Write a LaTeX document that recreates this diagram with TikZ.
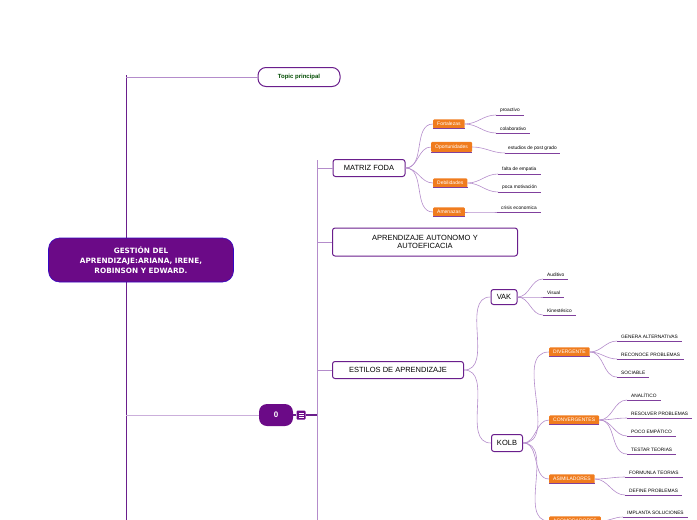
\documentclass[tikz,border=0pt]{standalone}
\usepackage{fontspec}
\setmainfont{Liberation Sans}
\newfontfamily\dejavu{DejaVu Sans}
\begin{document}
\begin{tikzpicture}[x=1pt,y=-1pt,
  every node/.style={inner sep=0pt},
  main/.style={draw=pur,line width=1pt,rounded corners=2.5pt,fill=white,font=\fontsize{7.5}{8.5}\selectfont,align=center},
  org/.style={fill=orn,rounded corners=1pt,text=white,font=\fontsize{5}{6}\selectfont,inner xsep=4pt,inner ysep=2.8pt,anchor=west},
  leaf/.style={anchor=south west,font=\fontsize{4.8}{5.5}\selectfont,inner xsep=4pt,inner ysep=2.5pt},
  ul/.style={draw=pur!85,line width=0.9pt},
  con/.style={draw=lpur,line width=0.6pt},
  thick/.style={draw=pur,line width=1.2pt}]
\definecolor{pur}{HTML}{6A1E8C}
\definecolor{lpur}{HTML}{B48CCB}
\definecolor{orn}{HTML}{F07C1E}
\definecolor{rootc}{HTML}{6B0A87}
\useasboundingbox (0,0) rectangle (697,520);
\clip (0,0) rectangle (697,520);
% trunk
\coordinate (t0) at (126,75);
\coordinate (t1) at (126,530);
\draw[thick,line width=1pt] (t0) -- (t1);
\coordinate (v0) at (317,160);
\coordinate (v1) at (317,530);
\draw[con,line width=0.8pt] (v0) -- (v1);
% root
\node[fill=rootc,draw=blue!50!rootc,line width=0.6pt,rounded corners=11pt,minimum width=185pt,minimum height=44pt,text=white,align=center,font=\dejavu\bfseries\fontsize{7.3}{10}\selectfont] (root) at (141,260) {GESTIÓN DEL\\APRENDIZAJE:ARIANA, IRENE,\\ROBINSON Y EDWARD.};
\node[main,rounded corners=8pt,minimum width=82pt,minimum height=19pt,font=\bfseries\fontsize{6}{7}\selectfont,text=black!70!green] (topic) at (299,77) {Topic principal};
\node[fill=rootc,rounded corners=8pt,minimum width=34pt,minimum height=22pt,text=white,font=\bfseries\fontsize{8}{9}\selectfont] (zero) at (276,415) {0};
\node[fill=rootc,rounded corners=1pt,minimum width=9pt,minimum height=9pt] (ic) at (301,415) {};
\draw[white,line width=0.5pt] ([xshift=-2.5pt,yshift=2pt]ic.center) -- ++(5,0) ([xshift=-2.5pt]ic.center) -- ++(5,0) ([xshift=-2.5pt,yshift=-2pt]ic.center) -- ++(5,0);
\coordinate (tz) at (126,415);
\coordinate (ttop) at (126,77);
\draw[con,line width=0.8pt] (ttop) -- (topic.west);
\draw[draw=lpur!70,line width=1pt] (tz) -- (zero.west);
\draw[thick] (zero.east) -- (ic.west);
\coordinate (vz) at (317,415);
\draw[thick] (ic.east) -- (vz);
% level 2
\node[main,minimum width=72pt,minimum height=17pt] (foda) at (369,168) {MATRIZ FODA};
\node[main,minimum width=185pt,minimum height=28pt,text width=180pt] (auto) at (425,242) {APRENDIZAJE AUTONOMO Y\\AUTOEFICACIA};
\node[main,minimum width=131pt,minimum height=17pt] (est) at (398,370) {ESTILOS DE APRENDIZAJE};
\foreach \n in {foda,auto,est} \draw[con] (317,0 |- \n.west) -- (\n.west);
% FODA
\node[org] (fo) at (433,124) {Fortalezas};
\node[org] (op) at (431,147) {Oportunidades};
\node[org] (de) at (433,183) {Debilidades};
\node[org] (am) at (433,212) {Amenazas};
\foreach \n in {fo,op,de,am} \draw[con] (foda.east) to[out=0,in=180] (\n.west);
\node[leaf] (pro) at (496,115) {proactivo};
\node[leaf] (col) at (496,133) {colaborativo};
\node[leaf,inner xsep=3pt] (epg) at (505,153) {estudios de post grado};
\node[leaf] (fal) at (498,174) {falta de empatia};
\node[leaf] (poc) at (498,192) {poca motivación};
\node[leaf] (cri) at (497,212) {crisis economica};
\foreach \p/\c in {fo/pro,fo/col,op/epg,de/fal,de/poc,am/cri} \draw[con] (\p.east) to[out=0,in=180] (\c.south west);
% ESTILOS
\node[main,minimum width=26pt,minimum height=15pt] (vak) at (504,297) {VAK};
\node[main,minimum width=31pt,minimum height=17pt] (kolb) at (507,443) {KOLB};
\foreach \n in {vak,kolb} \draw[con] (est.east) to[out=0,in=180] (\n.west);
\node[leaf] (aud) at (543,279) {Auditivo};
\node[leaf] (vis) at (543,297) {Visual};
\node[leaf] (kin) at (543,315) {Kinestésico};
\foreach \c in {aud,vis,kin} \draw[con] (vak.east) to[out=0,in=180] (\c.south west);
% KOLB
\node[org] (div) at (549,352) {DIVERGENTE};
\node[org] (conv) at (549,420) {CONVERGENTES};
\node[org] (asi) at (549,479) {ASIMILADORES};
\node[org] (aco) at (549,521) {ACOMODADORES};
\foreach \n in {div,conv,asi,aco} \draw[con] (kolb.east) to[out=0,in=180] (\n.west);
\node[leaf] (ga) at (617,341) {GENERA ALTERNATIVAS};
\node[leaf] (rp) at (617,359) {RECONOCE PROBLEMAS};
\node[leaf] (so) at (617,377) {SOCIABLE};
\node[leaf] (an) at (627,400) {ANALÍTICO};
\node[leaf] (rs) at (627,418) {RESOLVER PROBLEMAS};
\node[leaf] (pe) at (627,436) {POCO EMPÁTICO};
\node[leaf] (tt) at (627,454) {TESTAR TEORIAS};
\node[leaf] (ft) at (625,477) {FORMUNLA TEORIAS};
\node[leaf] (dp) at (625,495) {DEFINE PROBLEMAS};
\node[leaf] (is) at (623,517) {IMPLANTA SOLUCIONES};
\foreach \p/\c in {div/ga,div/rp,div/so,conv/an,conv/rs,conv/pe,conv/tt,asi/ft,asi/dp,aco/is} \draw[con] (\p.east) to[out=0,in=180] (\c.south west);
% underlines
\foreach \c in {pro,col,epg,fal,poc,cri,aud,vis,kin,ga,rp,so,an,rs,pe,tt,ft,dp,is} \draw[ul] (\c.south west) -- (\c.south east);
\foreach \c in {fo,op,de,am,div,conv,asi,aco} \draw[ul,line width=0.7pt] (\c.south west) -- (\c.south east);
\end{tikzpicture}
\end{document}
